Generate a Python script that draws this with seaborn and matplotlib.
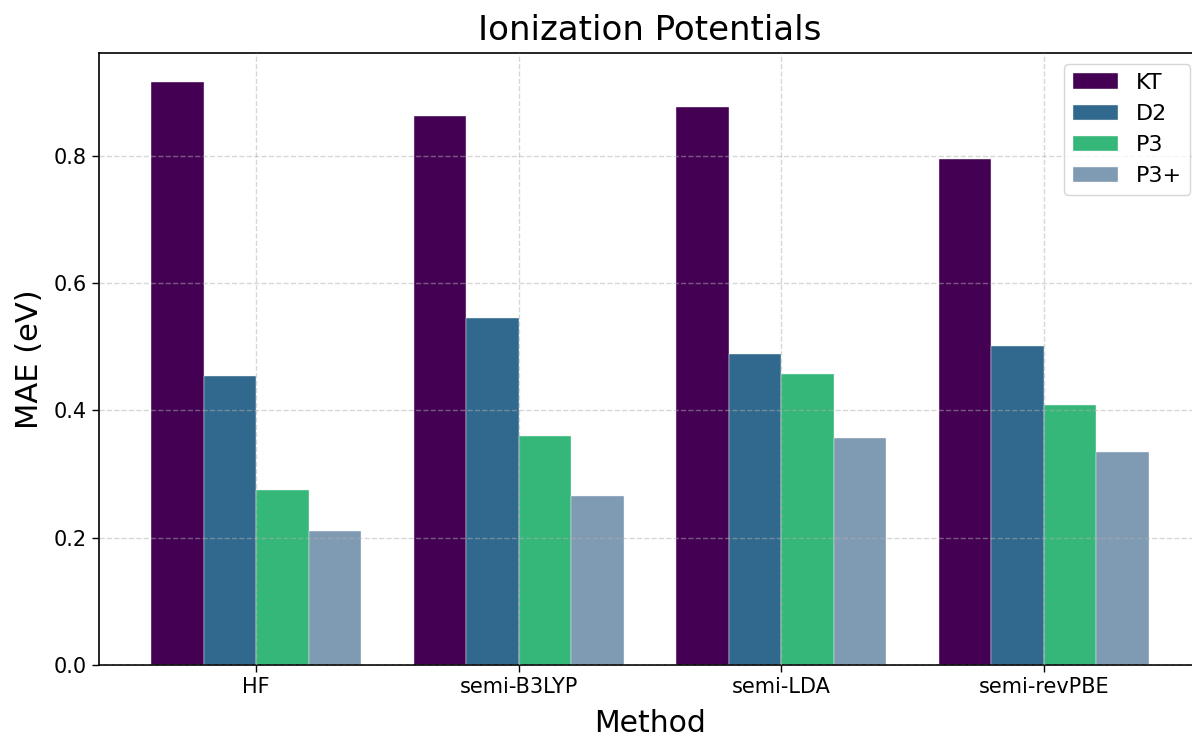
import matplotlib
matplotlib.use("Agg")
import matplotlib.pyplot as plt
import seaborn as sns
import pandas as pd

methods = ["HF", "semi-B3LYP", "semi-LDA", "semi-revPBE"]
series = ["KT", "D2", "P3", "P3+"]
kt = [0.915, 0.862, 0.877, 0.794]
d2 = [0.454, 0.545, 0.489, 0.501]
p3 = [0.275, 0.360, 0.457, 0.409]
p3plus = [0.210, 0.265, 0.356, 0.335]
colors = ["#440154", "#31688e", "#35b779", "#7f9ab3"]

rows = []
for name, vals in zip(series, [kt, d2, p3, p3plus]):
    for m, v in zip(methods, vals):
        rows.append({"Method": m, "Series": name, "MAE": v})
df = pd.DataFrame(rows)

W, H = 1192, 737
fig = plt.figure(figsize=(W / 100, H / 100), dpi=100)
ax = fig.add_axes([98.5 / W, 1 - 665 / H, (1201.5 - 98.5) / W, (665 - 53) / H])

sns.barplot(data=df, x="Method", y="MAE", hue="Series", order=methods,
            hue_order=series, palette=colors, width=0.8, saturation=1,
            edgecolor="#f4f4f4", linewidth=0.3, ax=ax, errorbar=None)

ax.set_xlim(-0.6, 3.6)
ax.set_ylim(0, 0.9612)
ax.set_yticks([0.0, 0.2, 0.4, 0.6, 0.8])
ax.set_axisbelow(False)
ax.grid(True, linestyle="--", color="#b0b0b0", alpha=0.5, linewidth=1.0)

ax.set_title("Ionization Potentials", fontsize=24.5, pad=9)
ax.set_xlabel("Method", fontsize=21.5, labelpad=9)
ax.set_ylabel("MAE (eV)", fontsize=22, labelpad=7)
ax.tick_params(axis="both", labelsize=15, length=5, width=1)
for s in ax.spines.values():
    s.set_color("black")
    s.set_linewidth(1.2)
ax.spines["right"].set_visible(False)

leg = ax.legend(loc="upper right", fontsize=16, frameon=True, borderaxespad=0.5)
leg.get_frame().set_edgecolor("#cccccc")

fig.savefig("out.png", dpi=100)
